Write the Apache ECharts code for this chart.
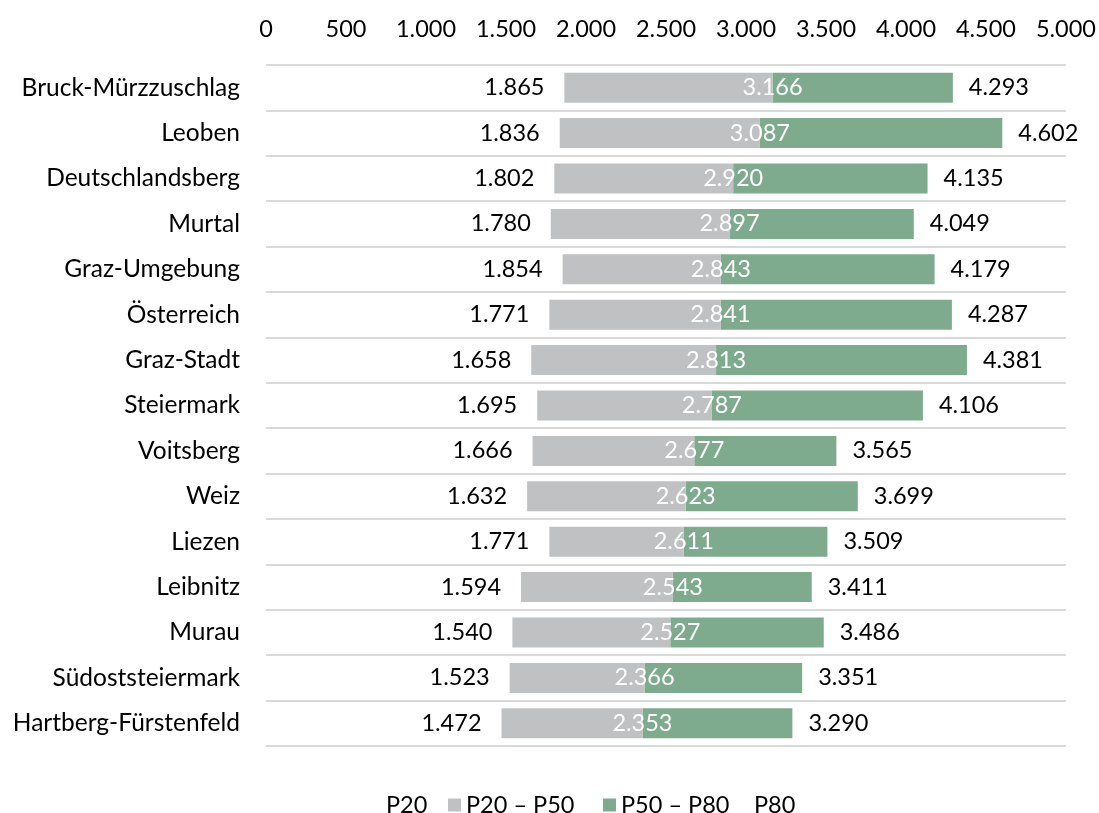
<!DOCTYPE html>
<html><head><meta charset="utf-8">
<script src="https://cdn.jsdelivr.net/npm/echarts@6/dist/echarts.min.js"></script>
<style>html,body{margin:0;padding:0;background:#fff}#c{width:1099px;height:813px}</style>
</head><body><div id="c"></div>
<script>
const categories = ["Bruck-Mürzzuschlag","Leoben","Deutschlandsberg","Murtal","Graz-Umgebung","Österreich","Graz-Stadt","Steiermark","Voitsberg","Weiz","Liezen","Leibnitz","Murau","Südoststeiermark","Hartberg-Fürstenfeld"];
const p20 = [1865,1836,1802,1780,1854,1771,1658,1695,1666,1632,1771,1594,1540,1523,1472];
const p50 = [3166,3087,2920,2897,2843,2841,2813,2787,2677,2623,2611,2543,2527,2366,2353];
const p80 = [4293,4602,4135,4049,4179,4287,4381,4106,3565,3699,3509,3411,3486,3351,3290];
const xTicks = [0,500,1000,1500,2000,2500,3000,3500,4000,4500,5000];
const legendNames = ['P20','P20 – P50','P50 – P80','P80'];

function fmt(n){ return String(n).replace(/\B(?=(\d{3})+(?!\d))/g,'.'); }
const FONT = 'Lato';
const FS = 23.5;
const FSC = 24.5;
const legendLeft = [363, 443, 598, 731];
const legendIcon = ['none','rect','rect','none'];
const chart = echarts.init(document.getElementById('c'));
chart.setOption({
  animation:false,
  textStyle:{fontFamily:FONT},
  grid:{left:266,right:31,top:65,bottom:67,containLabel:false},
  xAxis:{type:'value',position:'top',min:xTicks[0],max:xTicks[xTicks.length-1],interval:500,
    axisLine:{show:false},axisTick:{show:false},splitLine:{show:false},
    axisLabel:{fontFamily:FONT,fontSize:FS,color:'#000',margin:24,formatter:v=>fmt(v)}},
  yAxis:{type:'category',data:categories,inverse:true,
    axisLine:{show:false},axisTick:{show:false},
    splitLine:{show:true,lineStyle:{color:'#d9d9d9',width:2}},
    axisLabel:{fontFamily:FONT,fontSize:FSC,color:'#000',margin:26}},
  legend:legendNames.map((n,i)=>({top:788,left:legendLeft[i],itemWidth:13,itemHeight:13,
    textStyle:{fontFamily:FONT,fontSize:FS,color:'#000'},
    data:[{name:n,icon:legendIcon[i]}]})),
  series:[
    {name:'P20',type:'bar',stack:'a',barCategoryGap:'34%',data:p20,
      itemStyle:{color:'rgba(0,0,0,0)'},
      label:{show:true,position:'insideRight',distance:20,color:'#000',fontFamily:FONT,fontSize:FS,formatter:p=>fmt(p20[p.dataIndex])}},
    {name:'P20 – P50',type:'bar',stack:'a',z:3,data:p50.map((v,i)=>v-p20[i]),
      itemStyle:{color:'#bfc1c2'},
      label:{show:true,position:'right',distance:0,align:'center',color:'#fff',fontFamily:FONT,fontSize:FS,formatter:p=>fmt(p50[p.dataIndex])}},
    {name:'P50 – P80',type:'bar',stack:'a',z:2,data:p80.map((v,i)=>v-p50[i]),
      itemStyle:{color:'#7eaa8d'},
      label:{show:true,position:'right',distance:16,color:'#000',fontFamily:FONT,fontSize:FS,formatter:p=>fmt(p80[p.dataIndex])}},
    {name:'P80',type:'line',data:[],itemStyle:{color:'#fff'}}
  ]
});
</script></body></html>
